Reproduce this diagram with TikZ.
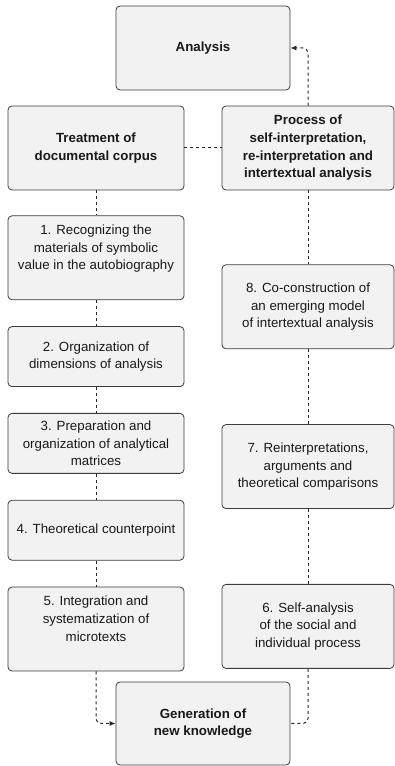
\documentclass[tikz,border=0pt]{standalone}
\usepackage{fontspec}
\setmainfont{Liberation Sans}
\usetikzlibrary{arrows.meta,positioning}
\definecolor{boxfill}{HTML}{F2F2F2}
\definecolor{boxline}{HTML}{3C3C3C}

\begin{document}
\begin{tikzpicture}[x=1pt, y=1pt,
    stepbox/.style={rectangle, rounded corners=4pt, draw=boxline, line width=0.8pt, fill=boxfill, align=center, minimum width=176pt, minimum height=84pt, inner sep=2pt, text=black!90, font=\fontsize{13.3}{17.7}\selectfont},
    headbox/.style={stepbox, font=\fontsize{13.3}{17.7}\selectfont\bfseries},
    link/.style={draw=black!85, line width=1pt, dash pattern=on 3pt off 3pt, rounded corners=5pt},
    tip/.style={-{Latex[length=6pt,width=5pt]}}]
    \useasboundingbox (0,0) rectangle (394,766);

    % Analysis
    \node [headbox, minimum width=174pt] (analysis) at (203,718) {Analysis};

    % Left column
    \node [headbox] (treatment) at (96,618) {Treatment of\\documental corpus};
    \node [stepbox, text depth=21pt, below=25pt of treatment] (recog) {1. Recognizing the\\materials of symbolic\\value in the autobiography};
    \node [stepbox, minimum height=60pt, below=26pt of recog] (dims) {2. Organization of\\dimensions of analysis};
    \node [stepbox, minimum height=60pt, below=26pt of dims] (matrices) {3. Preparation and\\organization of analytical\\matrices};
    \node [stepbox, minimum height=60pt, below=26pt of matrices] (counter) {4. Theoretical counterpoint};
    \node [stepbox, text depth=21pt, below=26pt of counter] (integ) {5. Integration and\\systematization of\\microtexts};

    % Right column
    \node [headbox, minimum width=172pt] (process) at (308,618) {Process of\\self-interpretation,\\re-interpretation and\\intertextual analysis};
    \node [stepbox, minimum width=172pt, below=74pt of process] (cocon) {8. Co-construction of\\an emerging model\\of intertextual analysis};
    \node [stepbox, minimum width=172pt, below=75pt of cocon] (reinterp) {7. Reinterpretations,\\arguments and\\theoretical comparisons};
    \node [stepbox, minimum width=172pt, below=75pt of reinterp] (selfan) {6. Self-analysis\\of the social and\\individual process};

    % Generation
    \node [headbox, minimum width=174pt, minimum height=83pt] (generation) at (203,42.5) {Generation of\\new knowledge};

    % Arrows
    \draw [link] (treatment) -- (process);
    \draw [link, tip] (process.north) |- (analysis.east);
    \draw [link] (treatment) -- (recog);
    \draw [link] (recog) -- (dims);
    \draw [link] (dims) -- (matrices);
    \draw [link] (matrices) -- (counter);
    \draw [link] (counter) -- (integ);
    \draw [link] (process) -- (cocon);
    \draw [link] (cocon) -- (reinterp);
    \draw [link] (reinterp) -- (selfan);
    \draw [link, tip] (integ.south) |- (generation.west);
    \draw [link] (selfan.south) |- (generation.east);
\end{tikzpicture}
\end{document}
